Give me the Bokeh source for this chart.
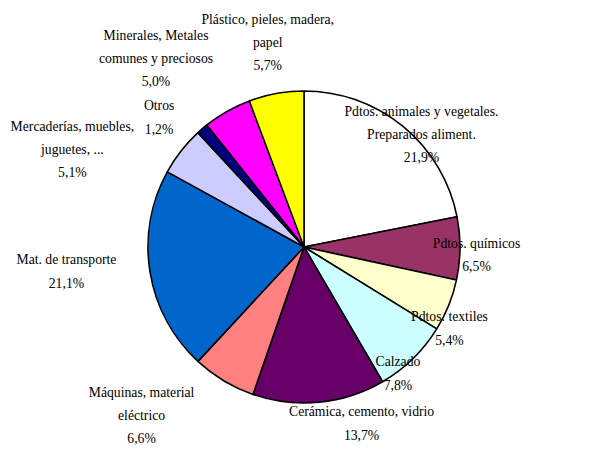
import math
from bokeh.plotting import figure
from bokeh.models import Range1d, ColumnDataSource
from bokeh.core.properties import value
from bokeh.embed import file_html
from bokeh.resources import INLINE

# ---- data ----
categories = [
    "Pdtos. animales y vegetales.\nPreparados aliment.",
    "Pdtos. químicos",
    "Pdtos. textiles",
    "Calzado",
    "Cerámica, cemento, vidrio",
    "Máquinas, material\neléctrico",
    "Mat. de transporte",
    "Mercaderías, muebles,\njuguetes, ...",
    "Otros",
    "Minerales, Metales\ncomunes y preciosos",
    "Plástico, pieles, madera,\npapel",
]
shares = [21.9, 6.5, 5.4, 7.8, 13.7, 6.6, 21.1, 5.1, 1.2, 5.0, 5.7]
pct_labels = ["21,9%", "6,5%", "5,4%", "7,8%", "13,7%", "6,6%", "21,1%", "5,1%", "1,2%", "5,0%", "5,7%"]

# ---- styles / layout ----
colors = ["#FFFFFF", "#993366", "#FFFFCC", "#CCFFFF", "#660066", "#FF8080",
          "#0066CC", "#CCCCFF", "#000080", "#FF00FF", "#FFFF00"]
label_shift_deg = [6.8, 2.0, 7.3, 7.7, -12.5, 13.0, 3.3, -15.1, -7.5, -8.6, 0.2]
label_dist = [162.7, 172.7, 166.8, 157.6, 185.6, 234.0, 238.8, 251.4, 194.4, 239.7, 207.7]

W, H = 605, 452
cx, cy, R = 303.5, H - 246.5, 156

total = sum(shares)
starts, ends, mids = [], [], []
cum = 0.0
for s in shares:
    a0 = math.pi / 2 - 2 * math.pi * cum / total
    cum += s
    a1 = math.pi / 2 - 2 * math.pi * cum / total
    starts.append(a0)
    ends.append(a1)
    mids.append((a0 + a1) / 2)

src = ColumnDataSource(dict(start=starts, end=ends, color=colors))

p = figure(width=W, height=H, output_backend="svg", toolbar_location=None,
           x_range=Range1d(0, W), y_range=Range1d(0, H), min_border=0)
p.axis.visible = False
p.grid.visible = False
p.outline_line_color = None

p.wedge(x=cx, y=cy, radius=R, start_angle="start", end_angle="end",
        direction="clock", fill_color="color", line_color="black",
        line_width=1.6, source=src)

lx, ly, lt = [], [], []
for i, m in enumerate(mids):
    a = m - math.radians(label_shift_deg[i])
    lx.append(cx + label_dist[i] * math.cos(a))
    ly.append(cy + label_dist[i] * math.sin(a))
    lt.append(categories[i] + "\n" + pct_labels[i])

p.text(x=lx, y=ly, text=lt, text_align="center", text_baseline="middle",
       text_font=value("'Liberation Serif', 'Times New Roman', serif"), text_font_size="13.7px",
       text_line_height=1.55, text_color="black")

open("out.html", "w").write(file_html(p, INLINE))
